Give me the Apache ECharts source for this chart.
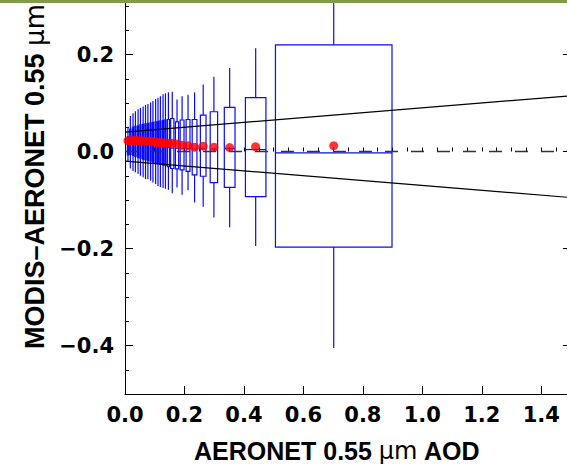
<!DOCTYPE html>
<html><head><meta charset="utf-8">
<script src="https://cdn.jsdelivr.net/npm/echarts@6/dist/echarts.min.js"></script>
<style>html,body{margin:0;padding:0;background:#fff}#c{width:567px;height:470px}</style>
</head><body><div id="c"></div>
<script>
// AOD bins (box extents along x)
const binLow  = [0.008,0.016,0.025,0.033,0.042,0.050,0.059,0.067,0.075,0.084,0.092,0.101,0.109,0.117,0.126,0.134,0.1425,0.1535,0.1695,0.1855,0.2055,0.226,0.2535,0.2865,0.334,0.405,0.506];
const binHigh = [0.012,0.020,0.029,0.037,0.046,0.054,0.063,0.071,0.079,0.088,0.096,0.105,0.113,0.121,0.130,0.138,0.1495,0.1645,0.1805,0.1985,0.2185,0.242,0.2725,0.3115,0.370,0.474,0.898];
const aodMean = [0.010,0.018,0.027,0.035,0.044,0.052,0.061,0.069,0.077,0.086,0.094,0.103,0.111,0.119,0.128,0.136,0.146,0.159,0.175,0.192,0.212,0.234,0.263,0.299,0.352,0.439,0.702];
// MODIS-AERONET statistics per bin
const whiskerLow  = [-0.020,-0.035,-0.040,-0.043,-0.046,-0.050,-0.053,-0.057,-0.057,-0.060,-0.064,-0.067,-0.071,-0.073,-0.075,-0.077,-0.079,-0.086,-0.074,-0.089,-0.080,-0.105,-0.114,-0.136,-0.156,-0.195,-0.405];
const q1          = [-0.007,-0.006,-0.008,-0.010,-0.012,-0.014,-0.016,-0.017,-0.019,-0.020,-0.022,-0.023,-0.025,-0.026,-0.028,-0.029,-0.031,-0.035,-0.036,-0.038,-0.041,-0.048,-0.051,-0.064,-0.074,-0.093,-0.197];
const median      = [0.010,0.010,0.010,0.010,0.010,0.010,0.010,0.010,0.009,0.009,0.009,0.009,0.008,0.008,0.008,0.008,0.008,0.007,0.007,0.006,0.006,0.005,0.006,0.005,0.006,0.004,-0.003];
const q3          = [0.030,0.046,0.050,0.052,0.053,0.055,0.056,0.057,0.058,0.059,0.060,0.061,0.062,0.063,0.064,0.065,0.066,0.068,0.061,0.065,0.066,0.066,0.075,0.082,0.091,0.111,0.220];
const whiskerHigh = [0.051,0.073,0.079,0.083,0.087,0.090,0.093,0.096,0.098,0.101,0.104,0.108,0.111,0.114,0.118,0.120,0.122,0.123,0.107,0.114,0.117,0.122,0.138,0.154,0.172,0.213,0.400];
const meanBias    = [0.022,0.022,0.023,0.023,0.022,0.022,0.022,0.021,0.021,0.021,0.020,0.019,0.019,0.018,0.018,0.017,0.017,0.017,0.0155,0.013,0.012,0.009,0.011,0.009,0.008,0.010,0.012];
// expected-error envelope end points
const eeAod   = [0, 1.5];
const eeUpper = [0.04, 0.115];
const eeLower = [-0.02, -0.095];
const zeroLine = [0, 0];
// tick values
const xMajor = [0,0.2,0.4,0.6,0.8,1.0,1.2,1.4];
const yMajorTicks = [-0.4,-0.2,0,0.2,0.4];
const yLabels = [-0.4,-0.2,0,0.2];

const BLUE = '#0a0aff';
const boxData = binLow.map((lo,i)=>[lo,binHigh[i],whiskerLow[i],q1[i],median[i],q3[i],whiskerHigh[i]]);
const meanData = aodMean.map((a,i)=>[a,meanBias[i]]);
const refLines = [eeUpper, eeLower].map(ys => eeAod.map((a,i)=>[a,ys[i]]));
const zeroData = [[eeAod[0], zeroLine[0], eeAod[1], zeroLine[1]]];

function renderBox(params, api){
  const lo=api.value(0), hi=api.value(1), wl=api.value(2), b1=api.value(3), md=api.value(4), b3=api.value(5), wh=api.value(6);
  const c=(lo+hi)/2;
  const tl=api.coord([lo,b3]), br=api.coord([hi,b1]);
  const mL=api.coord([lo,md]), mR=api.coord([hi,md]);
  const wT=api.coord([c,wh]), wTb=api.coord([c,b3]);
  const wB=api.coord([c,wl]), wBb=api.coord([c,b1]);
  const st={stroke:BLUE,lineWidth:1.2,fill:'none'};
  return {type:'group',children:[
    {type:'rect',shape:{x:tl[0],y:tl[1],width:br[0]-tl[0],height:br[1]-tl[1]},style:st},
    {type:'line',shape:{x1:mL[0],y1:mL[1],x2:mR[0],y2:mR[1]},style:st},
    {type:'line',shape:{x1:wT[0],y1:wT[1],x2:wTb[0],y2:wTb[1]},style:st},
    {type:'line',shape:{x1:wB[0],y1:wB[1],x2:wBb[0],y2:wBb[1]},style:st}
  ]};
}
function renderDash(params, api){
  const p1=api.coord([api.value(0),api.value(1)]), p2=api.coord([api.value(2),api.value(3)]);
  return {type:'line',shape:{x1:p1[0],y1:p1[1],x2:p2[0],y2:p2[1]},
    style:{stroke:'#333',lineWidth:1.6,lineDash:[13,13],fill:'none'}};
}
const fmt = v => (v<-1e-9?'\u2212':'') + Math.abs(v).toFixed(1);
const labelFont = {fontFamily:'DejaVu Sans',fontWeight:'bold',fontSize:21,color:'#000'};
const titleFont = {fontFamily:'Liberation Sans',fontWeight:'bold',color:'#000'};

const chart = echarts.init(document.getElementById('c'), null, {renderer:'svg'});
chart.setOption({
  animation:false,
  backgroundColor:'#fff',
  grid:{left:125, top:-91, width:446, height:485, outerBoundsMode:'none', containLabel:false},
  graphic:[{type:'rect',left:0,top:0,shape:{width:567,height:3},style:{fill:'#809c48'},z:100}],
  xAxis:[{
    type:'value', min:0, max:1.5, position:'bottom',
    axisLine:{show:true,onZero:false,lineStyle:{color:'#000',width:1}},
    axisTick:{inside:true,length:8,customValues:xMajor,lineStyle:{color:'#000'}},
    axisLabel:{customValues:xMajor,formatter:fmt,margin:10,...labelFont},
    splitLine:{show:false},
    name:'AERONET 0.55 {n|\u03bcm} AOD', nameLocation:'middle', nameGap:44,
    nameTextStyle:{...titleFont,fontSize:25,padding:[0,22,0,0],rich:{n:{fontFamily:'DejaVu Sans',fontWeight:'normal',fontSize:24,color:'#000'}}}
  },{
    type:'value', min:0, max:1.5, interval:0.05, position:'bottom',
    axisLine:{show:false}, axisTick:{inside:true,length:4,lineStyle:{color:'#000'}},
    axisLabel:{show:false}, splitLine:{show:false}
  }],
  yAxis:[{
    type:'value', min:-0.5, max:0.5, position:'left',
    axisLine:{show:true,onZero:false,lineStyle:{color:'#000',width:1}},
    axisTick:{inside:true,length:8,customValues:yMajorTicks,lineStyle:{color:'#000'}},
    axisLabel:{customValues:yLabels,formatter:fmt,margin:11,...labelFont},
    splitLine:{show:false},
    name:'MODIS\u2013AERONET 0.55 {n|\u03bcm}', nameLocation:'middle', nameGap:74,
    nameTextStyle:{...titleFont,fontSize:27,padding:[0,50,0,0],rich:{n:{fontFamily:'DejaVu Sans',fontWeight:'normal',fontSize:26,color:'#000'}}}
  },{
    type:'value', min:-0.5, max:0.5, interval:0.05, position:'left',
    axisLine:{show:false}, axisTick:{inside:true,length:4,lineStyle:{color:'#000'}},
    axisLabel:{show:false}, splitLine:{show:false}
  },{
    type:'value', min:-0.5, max:0.5, position:'right',
    axisLine:{show:true,onZero:false,lineStyle:{color:'#000'}},
    axisTick:{inside:true,length:8,customValues:yMajorTicks,lineStyle:{color:'#000'}},
    axisLabel:{show:false}, splitLine:{show:false}
  }],
  series:[
    {type:'custom', renderItem:renderBox, data:boxData, encode:{x:[0,1],y:[2,6]}, z:2, clip:true},
    {type:'line', data:refLines[0], symbol:'none', lineStyle:{color:'#000',width:1.2}, z:3, silent:true},
    {type:'line', data:refLines[1], symbol:'none', lineStyle:{color:'#000',width:1.2}, z:3, silent:true},
    {type:'custom', renderItem:renderDash, data:zeroData, encode:{x:[0,2],y:[1,3]}, z:3, silent:true},
    {type:'scatter', data:meanData, symbol:'circle', symbolSize:9, itemStyle:{color:'#ff0000'}, z:5}
  ]
});
</script></body></html>
